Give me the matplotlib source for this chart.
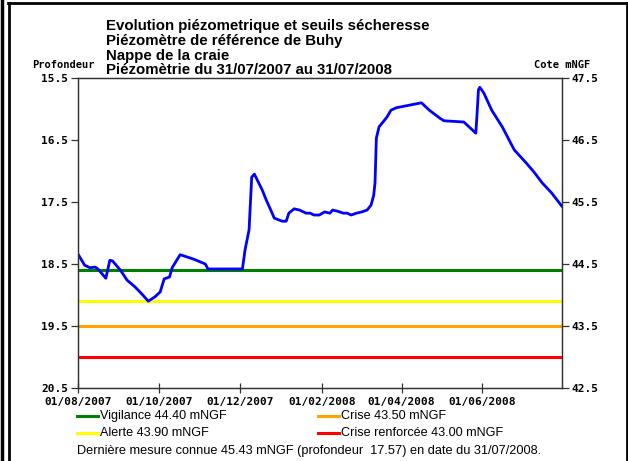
# coding=utf-8

import numpy as np
import pandas as pd
import matplotlib
matplotlib.use("Agg")
from matplotlib import pyplot as plt
from matplotlib.lines import Line2D

# données (jours depuis le 01/08/2007, profondeur en m)
jours = [0, 5, 9, 13, 15, 21, 24, 26, 32, 37, 43, 48, 53, 58, 62, 65, 69, 71, 77,
         87, 96, 98, 124, 126, 129, 131, 133, 136, 139, 142, 146, 148, 154, 157,
         159, 163, 167, 169, 172, 175, 178, 182, 186, 190, 192, 196, 200, 203,
         206, 210, 214, 218, 221, 223, 224, 225, 227, 230, 233, 236, 240, 259,
         265, 273, 276, 291, 295, 300, 301, 302, 303, 306, 312, 320, 329, 338,
         344, 350, 357, 365]
profondeur = [18.34, 18.52, 18.56, 18.55, 18.58, 18.73, 18.44, 18.45, 18.60, 18.76,
              18.87, 18.98, 19.10, 19.03, 18.95, 18.74, 18.71, 18.56, 18.35, 18.42,
              18.50, 18.58, 18.58, 18.27, 17.95, 17.10, 17.05, 17.18, 17.31, 17.47,
              17.66, 17.76, 17.81, 17.81, 17.68, 17.61, 17.63, 17.65, 17.68, 17.68,
              17.71, 17.71, 17.66, 17.68, 17.63, 17.65, 17.68, 17.68, 17.71, 17.68,
              17.66, 17.63, 17.55, 17.39, 17.19, 16.47, 16.29, 16.21, 16.13, 16.02,
              15.98, 15.90, 16.02, 16.15, 16.19, 16.21, 16.29, 16.39, 16.06, 15.69,
              15.65, 15.74, 16.02, 16.29, 16.66, 16.87, 17.02, 17.19, 17.35, 17.57]

seuils_noms = ["Vigilance", "Alerte", "Crise", "Crise renforcée"]
seuils_cotes = [44.40, 43.90, 43.50, 43.00]
seuils_couleurs = ["#008000", "#ffff00", "#ffa500", "#ff0000"]

x_ticks = ["01/08/2007", "01/10/2007", "01/12/2007", "01/02/2008", "01/04/2008", "01/06/2008"]
prof_ticks = [15.5, 16.5, 17.5, 18.5, 19.5, 20.5]
cote_ticks = [47.5, 46.5, 45.5, 44.5, 43.5, 42.5]

ref = 63.0  # cote = ref - profondeur
debut = pd.Timestamp("2007-08-01")
fin = pd.Timestamp("2008-07-31")
dates = debut + pd.to_timedelta(jours, unit="D")

W, H = 628, 461
fig = plt.figure(figsize=(W / 100, H / 100), dpi=100)


def fx(px):
    return px / W


def fy(py):
    return 1 - py / H


ax = fig.add_axes([fx(78), fy(388), (562 - 78) / W, (388 - 78) / H])

for nom, cote, coul in zip(seuils_noms, seuils_cotes, seuils_couleurs):
    ax.plot([debut, fin], [ref - cote, ref - cote], color=coul, lw=2.2)

ax.plot(dates, profondeur, color="#0000ff", lw=2.0, solid_joinstyle="round")

ax.set_xlim(debut, fin)
ax.set_ylim(20.5, 15.5)
ax.set_yticks(prof_ticks)
ax.set_yticklabels(["%.1f" % v for v in prof_ticks])
ax.set_xticks(pd.to_datetime(x_ticks, format="%d/%m/%Y"))
ax.set_xticklabels(x_ticks)

ax2 = ax.twinx()
ax2.set_ylim(42.5, 47.5)
ax2.set_yticks(cote_ticks)
ax2.set_yticklabels(["%.1f" % v for v in cote_ticks])

tick_font = {"family": "DejaVu Sans Mono", "weight": "bold", "size": 8.0}
for a in (ax, ax2):
    for sp in a.spines.values():
        sp.set_color("#333333")
        sp.set_linewidth(0.9)
    for lab in a.get_xticklabels() + a.get_yticklabels():
        lab.set_fontfamily(tick_font["family"])
        lab.set_fontweight(tick_font["weight"])
        lab.set_fontsize(tick_font["size"])
ax.tick_params(axis="y", direction="out", length=5, width=0.9, color="#333333", pad=2)
ax.tick_params(axis="x", direction="inout", length=7, width=0.9, color="#333333", pad=3)
ax2.tick_params(axis="y", direction="out", length=5, width=0.9, color="#333333", pad=2)

# titre
titre = ["Evolution piézometrique et seuils sécheresse",
         "Piézomètre de référence de Buhy",
         "Nappe de la craie",
         "Piézomètrie du 31/07/2007 au 31/07/2008"]
for i, t in enumerate(titre):
    fig.text(fx(106), fy(26 + i * 14.8), t, fontsize=10.8, fontweight="bold",
             family="Liberation Sans", va="center", ha="left")

fig.text(fx(63), fy(65), "Profondeur", fontsize=7.5, fontweight="bold",
         family="DejaVu Sans Mono", ha="center", va="center")
fig.text(fx(562), fy(65), "Cote mNGF", fontsize=7.5, fontweight="bold",
         family="DejaVu Sans Mono", ha="center", va="center")

# légende
pos = [(77, 416), (77, 433), (318, 416), (318, 433)]
for (px, py), nom, cote, coul in zip(pos, seuils_noms, seuils_cotes, seuils_couleurs):
    fig.add_artist(Line2D([fx(px), fx(px + 21)], [fy(py), fy(py)], color=coul, lw=2.2))
    fig.text(fx(px + 23), fy(py), "%s %.2f mNGF" % (nom, cote), fontsize=9.1,
             family="Liberation Sans", va="center", ha="left")

fig.text(fx(77), fy(451),
         "Dernière mesure connue %.2f mNGF (profondeur  %.2f) en date du 31/07/2008."
         % (ref - profondeur[-1], profondeur[-1]),
         fontsize=9.2, family="Liberation Sans", va="center", ha="left")

# cadre
for xs, ys, lw in [([1.5, 1.5], [0, H], 2.5), ([8.5, 8.5], [3, H], 2.0),
                   ([8, 626.5], [3.5, 3.5], 2.0), ([626.5, 626.5], [3, H], 2.0)]:
    fig.add_artist(Line2D([fx(v) for v in xs], [fy(v) for v in ys], color="black", lw=lw))

plt.savefig("out.png", dpi=100)
